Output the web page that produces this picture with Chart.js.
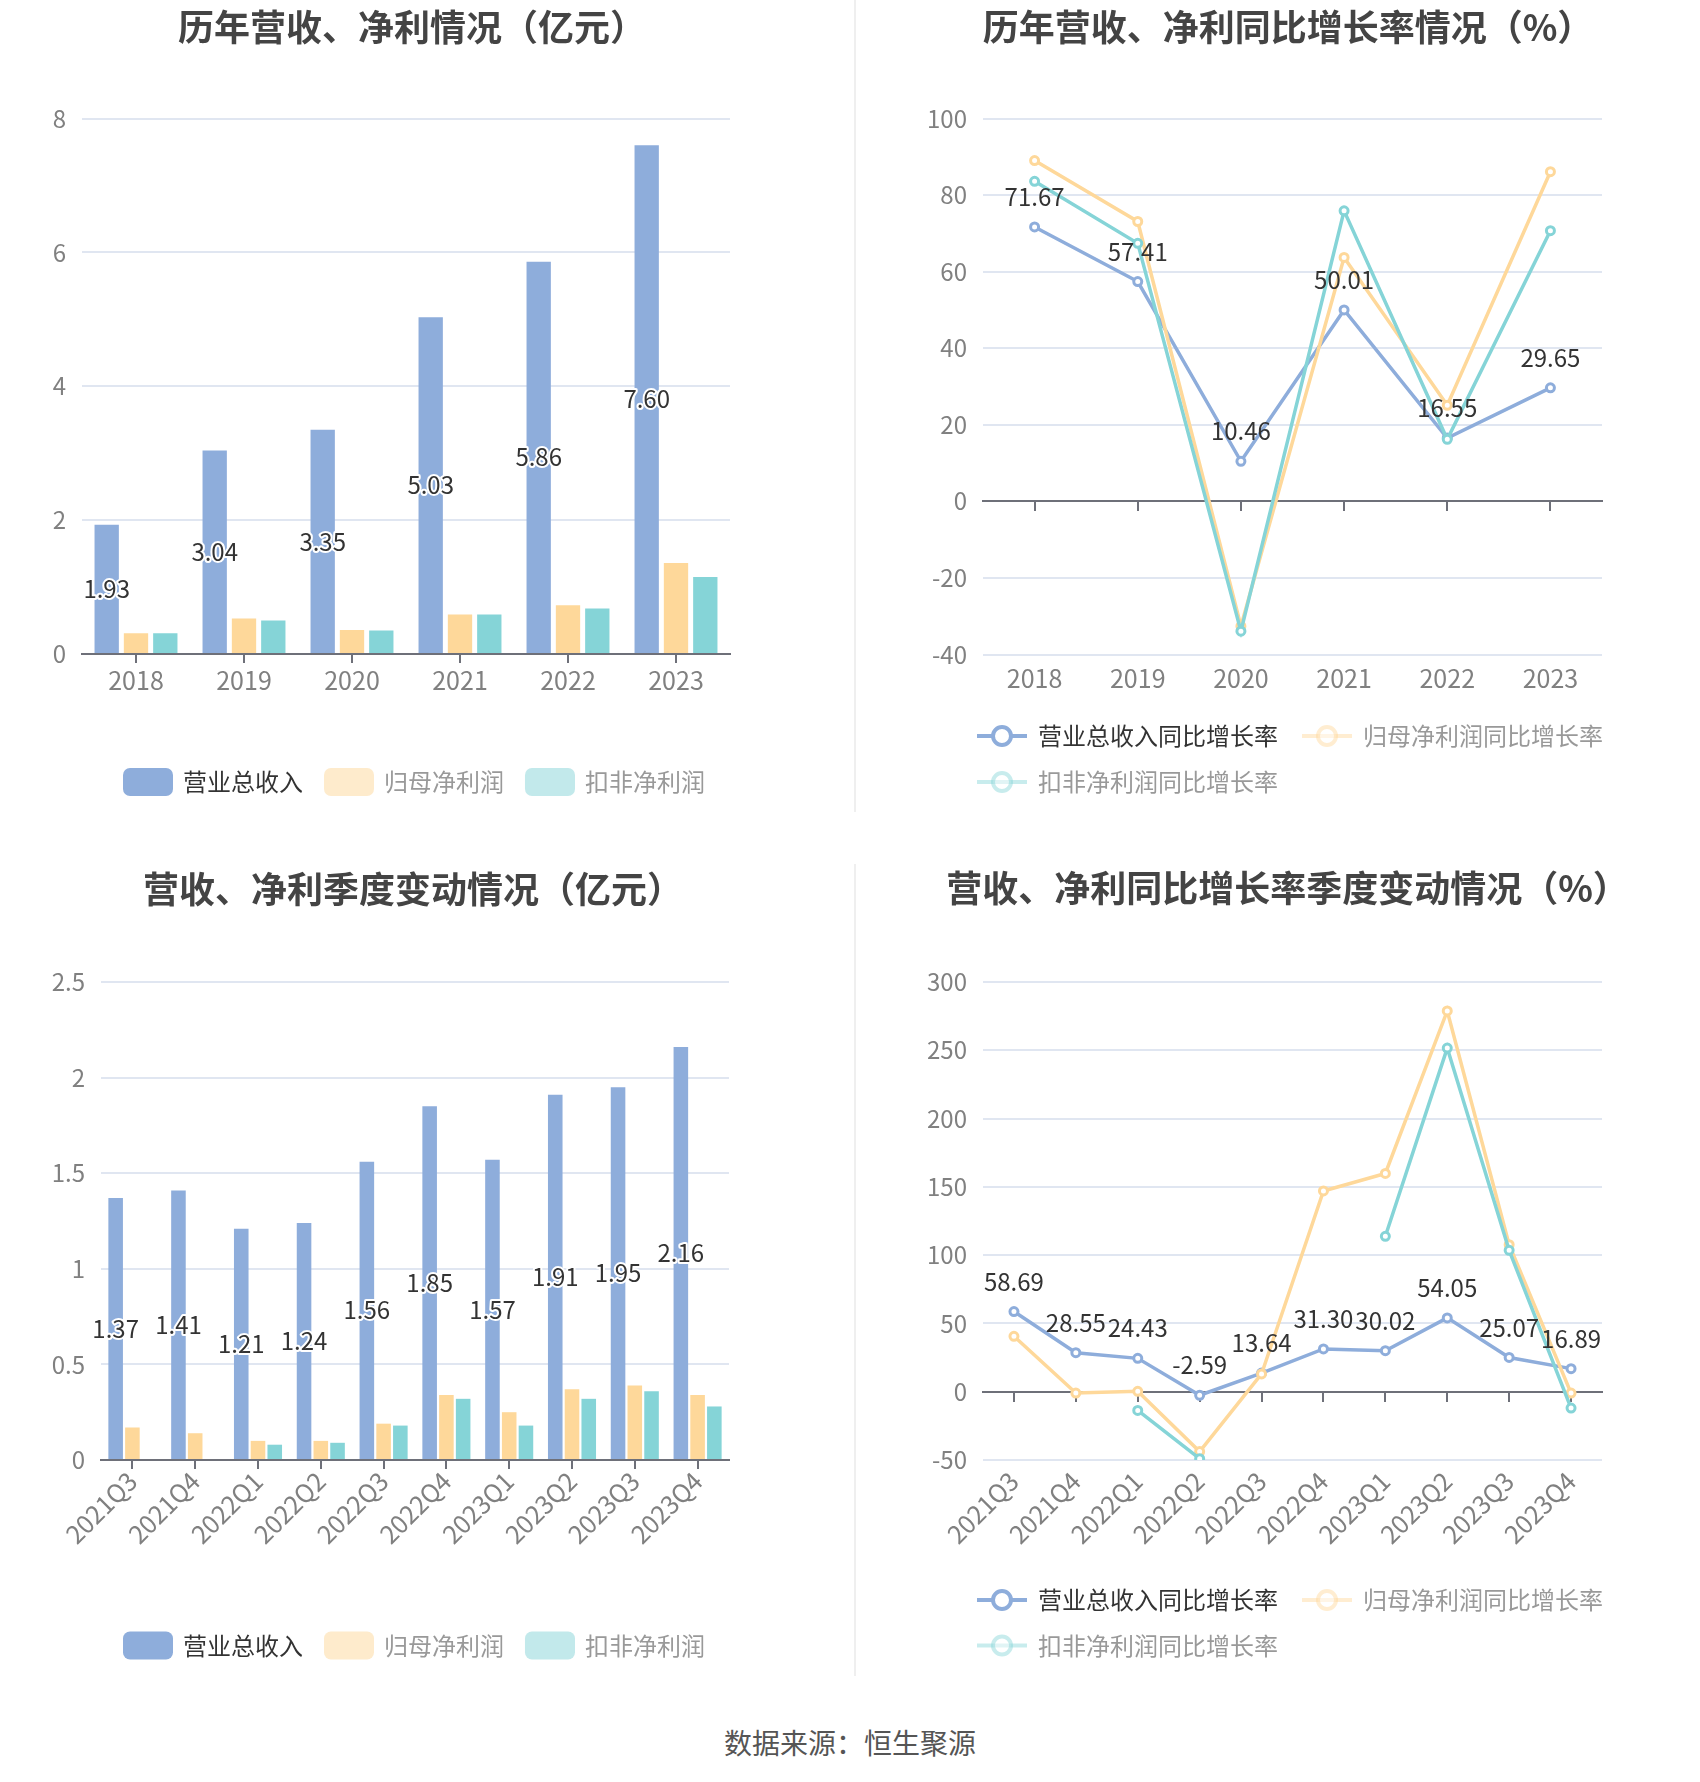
<!DOCTYPE html>
<html lang="zh-CN">
<head>
<meta charset="utf-8">
<title>营收、净利情况</title>
<script src="https://cdn.jsdelivr.net/npm/chart.js@4.4.1/dist/chart.umd.min.js"></script>
<style>
  html, body { margin: 0; padding: 0; background: #fff; }
  #page { position: relative; width: 1700px; height: 1782px; overflow: hidden; }
  .panel { position: absolute; width: 850px; height: 830px; }
  .panel canvas { display: block; }
  .vline { position: absolute; left: 854px; width: 2px; background: #efefef; }
  #source { position: absolute; left: 0; top: 1722px; width: 1700px; line-height: 40px; text-align: center;
            font-family: "Noto Sans CJK SC", sans-serif; font-size: 28px; color: #555; }
</style>
</head>
<body>
<div id="page">
  <div class="panel" style="left:0;top:0"><canvas id="yearBar" width="850" height="830"></canvas></div>
  <div class="panel" style="left:850px;top:0"><canvas id="yearRate" width="850" height="830"></canvas></div>
  <div class="panel" style="left:0;top:850px"><canvas id="quarterBar" width="850" height="830"></canvas></div>
  <div class="panel" style="left:850px;top:850px"><canvas id="quarterRate" width="850" height="830"></canvas></div>
  <div class="vline" style="top:0;height:812px"></div>
  <div class="vline" style="top:864px;height:812px"></div>
  <div id="source">数据来源：恒生聚源</div>
</div>
<script>
/* Data */
const years = ['2018', '2019', '2020', '2021', '2022', '2023'];
const quarters = ['2021Q3', '2021Q4', '2022Q1', '2022Q2', '2022Q3', '2022Q4', '2023Q1', '2023Q2', '2023Q3', '2023Q4'];

const yearRevenue = [1.93, 3.04, 3.35, 5.03, 5.86, 7.60];
const yearNetProfit = [0.31, 0.53, 0.36, 0.59, 0.73, 1.36];
const yearDeducted = [0.31, 0.50, 0.35, 0.59, 0.68, 1.15];

const yearRevenueYoY = [71.67, 57.41, 10.46, 50.01, 16.55, 29.65];
const yearNetProfitYoY = [89.0, 73.1, -32.6, 63.7, 25.1, 86.1];
const yearDeductedYoY = [83.6, 67.4, -33.9, 75.9, 16.2, 70.7];

const qRevenue = [1.37, 1.41, 1.21, 1.24, 1.56, 1.85, 1.57, 1.91, 1.95, 2.16];
const qNetProfit = [0.17, 0.14, 0.10, 0.10, 0.19, 0.34, 0.25, 0.37, 0.39, 0.34];
const qDeducted = [null, null, 0.08, 0.09, 0.18, 0.32, 0.18, 0.32, 0.36, 0.28];

const qRevenueYoY = [58.69, 28.55, 24.43, -2.59, 13.64, 31.30, 30.02, 54.05, 25.07, 16.89];
const qNetProfitYoY = [40.6, -1.0, 0.3, -43.8, 13.0, 147.0, 159.8, 278.8, 107.7, -1.0];
const qDeductedYoY = [null, null, -13.7, -49.0, null, null, 113.8, 251.6, 103.5, -12.0];

const barNames = ['营业总收入', '归母净利润', '扣非净利润'];
const rateNames = ['营业总收入同比增长率', '归母净利润同比增长率', '扣非净利润同比增长率'];

/* Style */
const FONT = '"Noto Sans CJK SC", "Noto Sans", sans-serif';
const COLORS = ['#8eaddb', '#fed89a', '#85d4d7'];
const AXIS = '#6e7079';
const GRID = '#e0e6f1';
const TICK = '#808080';

Chart.defaults.font.family = FONT;
Chart.defaults.animation = false;

/* Titles, legends and value labels */
const decor = {
  id: 'decor',
  afterDatasetsDraw(chart, args, o) {
    const ctx = chart.ctx;
    const meta = chart.getDatasetMeta(0);
    const vals = chart.data.datasets[0].data;
    ctx.save();
    ctx.font = `24px ${FONT}`;
    ctx.textAlign = 'center';
    ctx.textBaseline = 'middle';
    ctx.lineJoin = 'round';
    meta.data.forEach((el, i) => {
      if (vals[i] == null) return;
      const txt = vals[i].toFixed(2);
      let y;
      if (o.kind === 'bar') {
        y = (el.y + el.base) / 2;
        ctx.strokeStyle = '#fff';
        ctx.lineWidth = 4;
        ctx.strokeText(txt, el.x, y);
      } else {
        y = el.y - 30;
      }
      ctx.fillStyle = '#333';
      ctx.fillText(txt, el.x, y);
    });
    ctx.restore();
  },
  afterDraw(chart, args, o) {
    const ctx = chart.ctx;
    const ds = chart.data.datasets;
    ctx.save();
    ctx.font = `bold 36px ${FONT}`;
    ctx.fillStyle = '#444';
    ctx.textAlign = 'center';
    ctx.textBaseline = 'middle';
    ctx.fillText(o.title, o.titleX, o.titleY);

    ctx.font = `24px ${FONT}`;
    ctx.textAlign = 'left';
    if (o.kind === 'bar') {
      const widths = ds.map(d => 60 + ctx.measureText(d.label).width);
      const total = widths.reduce((s, w) => s + w, 0) + 21 * (ds.length - 1);
      let x = o.legendX - total / 2;
      const y = o.legendY[0];
      ds.forEach((d, i) => {
        ctx.globalAlpha = i === 0 ? 1 : 0.5;
        ctx.fillStyle = d.backgroundColor;
        ctx.beginPath();
        ctx.roundRect(x, y - 14, 50, 28, 7);
        ctx.fill();
        ctx.globalAlpha = 1;
        ctx.fillStyle = i === 0 ? '#333' : '#999';
        ctx.fillText(d.label, x + 60, y);
        x += widths[i] + 21;
      });
    } else {
      o.legendRows.forEach((row, r) => {
        let x = o.legendX;
        const y = o.legendY[r];
        row.forEach(i => {
          const d = ds[i];
          ctx.globalAlpha = i === 0 ? 1 : 0.45;
          ctx.strokeStyle = d.borderColor;
          ctx.lineWidth = 4;
          ctx.beginPath(); ctx.moveTo(x, y); ctx.lineTo(x + 50, y); ctx.stroke();
          ctx.beginPath(); ctx.arc(x + 25, y, 9, 0, Math.PI * 2);
          ctx.fillStyle = '#fff'; ctx.fill(); ctx.stroke();
          ctx.globalAlpha = 1;
          ctx.fillStyle = i === 0 ? '#333' : '#999';
          ctx.fillText(d.label, x + 61, y);
          x += 61 + ctx.measureText(d.label).width + 24;
        });
      });
    }
    ctx.restore();
  }
};

function yAxis(min, max, step, width) {
  return {
    min, max,
    ticks: { stepSize: step, color: TICK, font: { size: 24 }, padding: 16, callback: v => String(v) },
    grid: { color: c => (c.tick && c.tick.value === 0 ? AXIS : GRID), lineWidth: 2, drawTicks: false },
    border: { display: false },
    afterFit: s => { s.width = width; }
  };
}

function barChart(id, labels, series, g) {
  return new Chart(document.getElementById(id), {
    type: 'bar',
    data: {
      labels,
      datasets: series.map((data, i) => ({
        label: barNames[i], data, backgroundColor: COLORS[i],
        categoryPercentage: g.cp, barPercentage: g.bp
      }))
    },
    options: {
      responsive: false,
      layout: { padding: { left: 0, top: g.top, right: 850 - g.right, bottom: 830 - g.bottom - g.xh } },
      plugins: {
        legend: { display: false }, tooltip: { enabled: false },
        decor: { kind: 'bar', title: g.title, titleX: g.titleX, titleY: g.titleY, legendX: g.legendX, legendY: g.legendY }
      },
      scales: {
        x: {
          grid: { drawOnChartArea: false, drawTicks: true, tickLength: 9, color: AXIS, lineWidth: 2, offset: false },
          border: { display: true, color: AXIS, width: 2 },
          ticks: { color: TICK, font: { size: 25 }, padding: g.pad, autoSkip: false, minRotation: g.rot, maxRotation: g.rot },
          afterFit: s => { s.height = g.xh; }
        },
        y: yAxis(g.min, g.max, g.step, g.left)
      }
    },
    plugins: [decor]
  });
}

function rateChart(id, labels, series, g) {
  return new Chart(document.getElementById(id), {
    type: 'line',
    data: {
      labels,
      datasets: series.map((data, i) => ({
        label: rateNames[i], data, borderColor: COLORS[i], borderWidth: 3.5,
        pointRadius: 4, pointBorderWidth: 3, pointBackgroundColor: '#fff', pointBorderColor: COLORS[i],
        tension: 0, order: 3 - i
      }))
    },
    options: {
      responsive: false,
      layout: { padding: { left: 0, top: g.top, right: 850 - g.right, bottom: 830 - g.bottom - g.xh } },
      plugins: {
        legend: { display: false }, tooltip: { enabled: false },
        decor: { kind: 'line', title: g.title, titleX: g.titleX, titleY: g.titleY,
                 legendX: 127, legendY: g.legendY, legendRows: [[0, 1], [2]] }
      },
      scales: {
        x: {
          offset: true,
          grid: { display: false, drawTicks: false },
          border: { display: false },
          ticks: { color: TICK, font: { size: 25 }, padding: g.pad, autoSkip: false, minRotation: g.rot, maxRotation: g.rot },
          afterFit: s => { s.height = g.xh; }
        },
        x2: {
          type: 'category', offset: true, position: { y: 0 },
          grid: { drawOnChartArea: false, drawTicks: true, tickLength: 9, color: AXIS, lineWidth: 2, offset: false },
          border: { display: true, color: AXIS, width: 2 },
          ticks: { display: false }
        },
        y: yAxis(g.min, g.max, g.step, g.left)
      }
    },
    plugins: [decor]
  });
}

barChart('yearBar', years, [yearRevenue, yearNetProfit, yearDeducted], {
  title: '历年营收、净利情况（亿元）', titleX: 412, titleY: 27.5,
  left: 82, right: 730, top: 118.5, bottom: 654, xh: 60, pad: 2, rot: 0,
  min: 0, max: 8, step: 2, cp: 0.814, bp: 0.83, legendX: 414, legendY: [782]
});

rateChart('yearRate', years, [yearRevenueYoY, yearNetProfitYoY, yearDeductedYoY], {
  title: '历年营收、净利同比增长率情况（%）', titleX: 438, titleY: 27,
  left: 133, right: 752, top: 118.5, bottom: 654.5, xh: 60, pad: 9, rot: 0,
  min: -40, max: 100, step: 20, legendY: [736, 782]
});

barChart('quarterBar', quarters, [qRevenue, qNetProfit, qDeducted], {
  title: '营收、净利季度变动情况（亿元）', titleX: 413, titleY: 39,
  left: 101, right: 729, top: 132, bottom: 610, xh: 150, pad: -3, rot: 45,
  min: 0, max: 2.5, step: 0.5, cp: 0.80, bp: 0.87, legendX: 414, legendY: [795.5]
});

rateChart('quarterRate', quarters, [qRevenueYoY, qNetProfitYoY, qDeductedYoY], {
  title: '营收、净利同比增长率季度变动情况（%）', titleX: 437.5, titleY: 38.5,
  left: 133, right: 752, top: 132, bottom: 610, xh: 150, pad: 6, rot: 45,
  min: -50, max: 300, step: 50, legendY: [750, 795.5]
});
</script>
</body>
</html>
